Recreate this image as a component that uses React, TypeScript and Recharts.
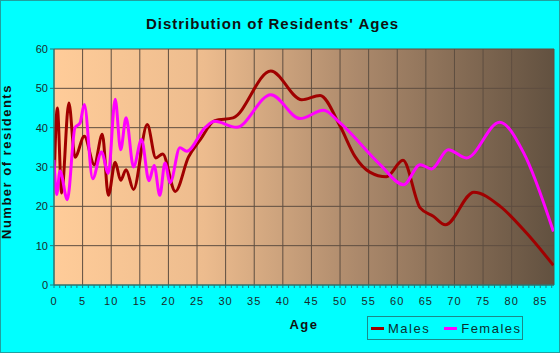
import { LineChart, Line, XAxis, YAxis, CartesianGrid } from 'recharts';

const maleAges = [0, 0.58, 1.34, 2.6, 3.67, 5.3, 7.05, 8.45, 9.5, 10.7, 11.65, 12.6, 13.9, 16.3, 17.8, 19.0, 21.2, 23.5, 25.5, 28.1, 31.3, 37.9, 43.3, 46.5, 50, 52.6, 55.2, 58.1, 61, 64, 66.3, 68.4, 73.4, 78, 82.6, 87.3];
const maleValues = [25, 45, 23.4, 46.3, 32.5, 37.8, 30.6, 38.3, 22.8, 31.2, 26.6, 29.3, 24.3, 40.8, 32.3, 33.3, 23.8, 32.5, 36.8, 41.8, 42.5, 54.4, 47.1, 48.2, 40.4, 32.7, 28.7, 27.5, 31.7, 19.6, 17.5, 15.3, 23.6, 20, 13.2, 5];

const femaleAges = [0, 0.46, 1.05, 2.33, 3.67, 4.55, 5.3, 6.76, 8.3, 9.5, 10.7, 11.65, 12.6, 13.9, 15.3, 16.6, 17.5, 18.5, 19.4, 20.3, 22, 23.2, 26.4, 28.1, 31.9, 37.9, 43, 47.1, 50, 57, 61.1, 64, 66, 68.9, 72.1, 77.9, 82.1, 87.3];
const femaleValues = [31.8, 23, 29, 21.7, 40, 41.2, 45.9, 27, 33.8, 28.4, 47.2, 34.4, 42.5, 30, 37, 26.5, 30.4, 22.8, 31, 26, 34.9, 34, 40, 41.6, 40.1, 48.4, 42.3, 44.4, 41.2, 30.6, 25.5, 30.6, 29.5, 34.4, 32.3, 41.4, 33.6, 13.6];

const ageTicks = Array.from({ length: 88 }, (_, i) => i);
const gridAgeTicks = [0, 5, 10, 15, 20, 25, 30, 35, 40, 45, 50, 55, 60, 65, 70, 75, 80, 85, 87.4];
const countTicks = [0, 10, 20, 30, 40, 50, 60];

const maleData = maleAges.map((age, i) => ({ age, value: maleValues[i] }));
const femaleData = femaleAges.map((age, i) => ({ age, value: femaleValues[i] }));

const FONT = 'Arial, "Liberation Sans", sans-serif';

function AgeTick({ x, y, payload }: any) {
  if (payload.value % 5 !== 0) return null;
  return (
    <text x={x} y={y} dy={15} textAnchor="middle" fontSize={11} fill="#1a2a2a" letterSpacing={1} fontFamily={FONT}>
      {payload.value}
    </text>
  );
}

function App() {
  return (
    <div style={{ position: 'absolute', left: 0, top: 0, width: 560, height: 353, background: '#00FFFF', fontFamily: FONT }}>
      <div style={{ position: 'absolute', left: 0, top: 15, width: 545, textAlign: 'center', fontSize: 15, fontWeight: 'bold', letterSpacing: 1, color: '#111' }}>
        Distribution of Residents' Ages
      </div>
      <LineChart width={560} height={353} margin={{ top: 49, right: 6, bottom: 38, left: 14 }}>
        <defs>
          <linearGradient id="plotBg" x1="0" y1="0" x2="1" y2="0">
            <stop offset="0%" stopColor="#FFCC99" />
            <stop offset="30%" stopColor="#EDBC8E" />
            <stop offset="60%" stopColor="#AD8A6C" />
            <stop offset="100%" stopColor="#625140" />
          </linearGradient>
        </defs>
        <CartesianGrid xAxisId="grid" fill="url(#plotBg)" fillOpacity={1} stroke="#5e4e40" strokeWidth={1} />
        <XAxis xAxisId="grid" orientation="top" dataKey="age" type="number" domain={[0, 87.4]} ticks={gridAgeTicks} allowDataOverflow hide />
        <XAxis
          xAxisId="main"
          dataKey="age"
          type="number"
          domain={[0, 87.4]}
          ticks={ageTicks}
          interval={0}
          allowDataOverflow
          height={30}
          tickSize={3}
          tick={<AgeTick />}
          stroke="#1a8080"
          label={{ value: 'Age', position: 'insideBottom', offset: -14, fontSize: 13, fontWeight: 'bold', fill: '#111', letterSpacing: 1.5, fontFamily: FONT }}
        />
        <YAxis
          dataKey="value"
          type="number"
          domain={[0, 60]}
          ticks={countTicks}
          width={40}
          tickSize={4}
          stroke="#1a8080"
          tick={{ fontSize: 11, fill: '#1a2a2a', fontFamily: FONT }}
          label={{ value: 'Number of residents', angle: -90, position: 'insideLeft', offset: -8, dy: 72, fontSize: 13, fontWeight: 'bold', fill: '#111', letterSpacing: 1.5, fontFamily: FONT }}
        />
        <Line xAxisId="main" data={maleData} dataKey="value" type="monotone" stroke="#A00000" strokeWidth={3} dot={false} isAnimationActive={false} />
        <Line xAxisId="main" data={femaleData} dataKey="value" type="monotone" stroke="#FF00FF" strokeWidth={3} dot={false} isAnimationActive={false} />
      </LineChart>
      <div style={{ position: 'absolute', left: 367, top: 316, width: 154, height: 22, border: '1px solid #1a8a8a', display: 'flex', alignItems: 'center', fontSize: 13, letterSpacing: 1.5, color: '#0a3030' }}>
        <span style={{ display: 'inline-block', width: 13, height: 3, background: '#A00000', marginLeft: 3, marginRight: 4 }} />
        <span>Males</span>
        <span style={{ display: 'inline-block', width: 13, height: 3, background: '#FF00FF', marginLeft: 14, marginRight: 4 }} />
        <span>Females</span>
      </div>
      <div style={{ position: 'absolute', left: 0, top: 0, width: 558, height: 351, border: '1px solid #20A0A0', pointerEvents: 'none' }} />
    </div>
  );
}

export default App;
